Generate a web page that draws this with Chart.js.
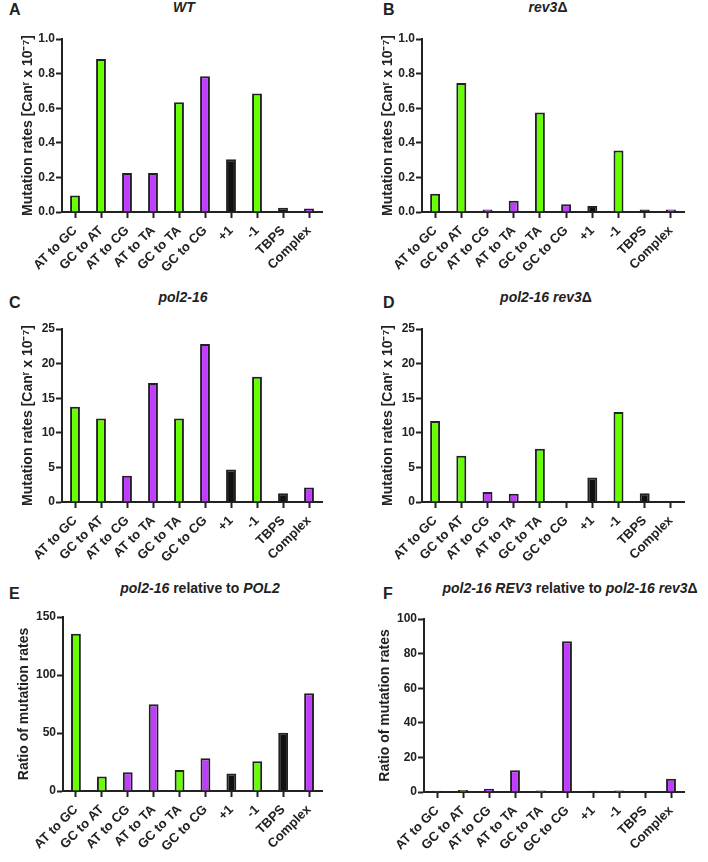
<!DOCTYPE html>
<html>
<head>
<meta charset="utf-8">
<script src="https://cdn.jsdelivr.net/npm/chart.js@4.4.0/dist/chart.umd.min.js"></script>
<style>
  body { margin: 0; background: #fff; }
  #wrap { position: relative; width: 708px; height: 862px; font-family: 'Liberation Sans', Arial, sans-serif; color: #222; }
  canvas { position: absolute; }
  .letter { position: absolute; font-size: 16px; font-weight: bold; line-height: 1; }
  .title { position: absolute; font-size: 14px; font-weight: bold; line-height: 1; transform: translateX(-50%); white-space: nowrap; }
</style>
</head>
<body>
<div id="wrap">
  <div class="letter" style="left:9px;top:2px">A</div>
  <div class="title" style="left:184px;top:0px"><i>WT</i></div>
  <div class="letter" style="left:383px;top:2px">B</div>
  <div class="title" style="left:548px;top:0px"><i>rev3</i>Δ</div>
  <div class="letter" style="left:9px;top:295px">C</div>
  <div class="title" style="left:183px;top:290px"><i>pol2-16</i></div>
  <div class="letter" style="left:383px;top:295px">D</div>
  <div class="title" style="left:546px;top:290px"><i>pol2-16 rev3</i>Δ</div>
  <div class="letter" style="left:9px;top:586px">E</div>
  <div class="title" style="left:200px;top:581px"><i>pol2-16</i> relative to <i>POL2</i></div>
  <div class="letter" style="left:383px;top:586px">F</div>
  <div class="title" style="left:570px;top:581px"><i>pol2-16 REV3</i> relative to <i>pol2-16 rev3</i>Δ</div>

  <canvas id="chartA" width="354" height="290" style="left:0;top:0"></canvas>
  <canvas id="chartB" width="354" height="290" style="left:354px;top:0"></canvas>
  <canvas id="chartC" width="354" height="290" style="left:0;top:290px"></canvas>
  <canvas id="chartD" width="354" height="290" style="left:354px;top:290px"></canvas>
  <canvas id="chartE" width="354" height="282" style="left:0;top:580px"></canvas>
  <canvas id="chartF" width="354" height="282" style="left:354px;top:580px"></canvas>
</div>
<script>
// categorias de mutacion
const categories = ['AT to GC', 'GC to AT', 'AT to CG', 'AT to TA', 'GC to TA', 'GC to CG', '+1', '-1', 'TBPS', 'Complex'];

// tasas
const wtRates = [0.095, 0.885, 0.225, 0.225, 0.635, 0.785, 0.305, 0.685, 0.025, 0.02];
const rev3Rates = [0.105, 0.745, 0.015, 0.065, 0.575, 0.045, 0.035, 0.355, 0.015, 0.015];
const pol216Rates = [13.75, 12.05, 3.8, 17.2, 12.05, 22.85, 4.7, 18.1, 1.25, 2.1];
const pol216Rev3Rates = [11.7, 6.7, 1.45, 1.2, 7.7, 0, 3.55, 13.0, 1.25, 0];
const ratioPol2 = [135.5, 12.5, 16.2, 74.8, 18.0, 28.2, 15.0, 25.6, 50.3, 84.3];
const ratioRev3 = [0.7, 1.1, 1.9, 12.6, 0.9, 87.2, 0.7, 0.8, 0, 7.7];

// ticks del eje y
const rateTicksSmall = [0, 0.2, 0.4, 0.6, 0.8, 1.0];
const rateTicksLarge = [0, 5, 10, 15, 20, 25];
const ratioTicksE = [0, 50, 100, 150];
const ratioTicksF = [0, 20, 40, 60, 80, 100];

const rateTitle = 'Mutation rates [Canʳ x 10⁻⁷]';
const ratioTitle = 'Ratio of mutation rates';

const GREEN = '#66ff00';
const PURPLE = '#c03cff';
const BLACK = '#111111';
const barColors = [GREEN, GREEN, PURPLE, PURPLE, GREEN, PURPLE, BLACK, GREEN, BLACK, PURPLE];

const FONT = "'Liberation Sans', Arial, sans-serif";
const INK = '#222222';

const makeChart = (id, values, yTicks, yTitle, decimals, box) => {
    const ctx = document.getElementById(id).getContext('2d');
    return new Chart(ctx, {
        type: 'bar',
        data: {
            labels: categories,
            datasets: [
                {
                    data: values,
                    backgroundColor: barColors,
                    borderColor: INK,
                    borderWidth: 2,
                    barPercentage: 0.38,
                    categoryPercentage: 1,
                },
            ],
        },
        options: {
            responsive: false,
            animation: false,
            devicePixelRatio: 1,
            layout: { padding: { top: box.top, right: box.right, bottom: 0, left: 0 } },
            plugins: { legend: { display: false }, tooltip: { enabled: false } },
            scales: {
                x: {
                    offset: true,
                    grid: { offset: false, drawOnChartArea: false, drawTicks: true, tickLength: 6, tickWidth: 2, tickColor: INK },
                    border: { display: true, color: INK, width: 2 },
                    ticks: {
                        color: INK,
                        minRotation: 45,
                        maxRotation: 45,
                        autoSkip: false,
                        padding: 5,
                        font: { family: FONT, size: 13, weight: 'bold' },
                    },
                    afterFit: (scale) => { scale.height = box.xh; },
                },
                y: {
                    min: yTicks[0],
                    max: yTicks[yTicks.length - 1],
                    grid: { drawOnChartArea: false, drawTicks: true, tickLength: 6, tickWidth: 2, tickColor: INK },
                    border: { display: true, color: INK, width: 2 },
                    ticks: {
                        stepSize: yTicks[1] - yTicks[0],
                        color: INK,
                        padding: 1,
                        font: { family: FONT, size: 12, weight: 'bold' },
                        callback: (v) => Number(v).toFixed(decimals),
                    },
                    title: {
                        display: true,
                        text: yTitle,
                        color: INK,
                        padding: { top: box.tp, bottom: 0 },
                        font: { family: FONT, size: 14, weight: 'bold' },
                    },
                    afterFit: (scale) => { scale.width = box.left; },
                },
            },
        },
    });
};

makeChart('chartA', wtRates, rateTicksSmall, rateTitle, 1, { top: 39, right: 32, xh: 78, left: 62, tp: 20 });
makeChart('chartB', rev3Rates, rateTicksSmall, rateTitle, 1, { top: 39, right: 24, xh: 78, left: 68, tp: 26 });
makeChart('chartC', pol216Rates, rateTicksLarge, rateTitle, 0, { top: 39, right: 32, xh: 78, left: 62, tp: 20 });
makeChart('chartD', pol216Rev3Rates, rateTicksLarge, rateTitle, 0, { top: 39, right: 24, xh: 78, left: 68, tp: 26 });
makeChart('chartE', ratioPol2, ratioTicksE, ratioTitle, 0, { top: 37, right: 32, xh: 71, left: 63, tp: 16 });
makeChart('chartF', ratioRev3, ratioTicksF, ratioTitle, 0, { top: 39, right: 24, xh: 70, left: 70, tp: 23 });
</script>
</body>
</html>
